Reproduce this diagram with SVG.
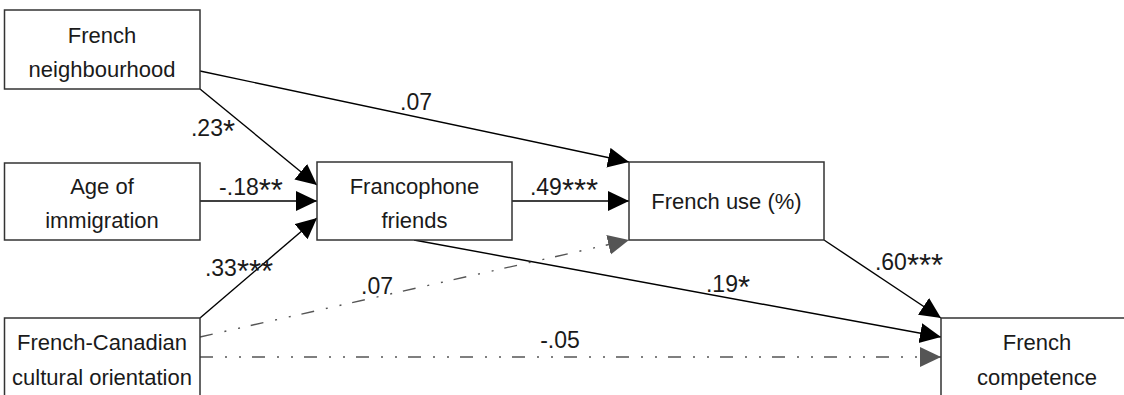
<svg xmlns="http://www.w3.org/2000/svg" width="1124" height="395" viewBox="0 0 1124 395">
  <style>
    .box { fill: #ffffff; stroke: #333333; stroke-width: 1.5; }
    .txt { font-family: "Liberation Sans", Arial, sans-serif; font-size: 22px; fill: #1a1a1a; text-anchor: middle; }
    .lbl { font-family: "Liberation Sans", Arial, sans-serif; font-size: 23px; fill: #1a1a1a; text-anchor: middle; }
    .ast { font-size: 31px; }
    .solid { fill: none; stroke: #000000; stroke-width: 1.4; marker-end: url(#arrowBlack); }
    .dashed { fill: none; stroke: #555555; stroke-width: 1.4; stroke-dasharray: 13 12 2 12 2 11; marker-end: url(#arrowGray); }
  </style>
  <defs>
    <marker id="arrowBlack" markerUnits="userSpaceOnUse" markerWidth="22" markerHeight="21" refX="21" refY="10" orient="auto" viewBox="0 0 22 21">
      <path d="M0,0 L21,10 L0,20 Z" fill="#000000"/>
    </marker>
    <marker id="arrowGray" markerUnits="userSpaceOnUse" markerWidth="22" markerHeight="21" refX="21" refY="10" orient="auto" viewBox="0 0 22 21">
      <path d="M0,0 L21,10 L0,20 Z" fill="#555555"/>
    </marker>
  </defs>

  <rect width="1124" height="395" fill="#ffffff"/>

  <!-- paths between the constructs -->
  <g id="connectors">
    <line class="solid" x1="200" y1="71" x2="629" y2="162"/>
    <line class="solid" x1="200" y1="89" x2="317" y2="185"/>
    <line class="solid" x1="200" y1="201" x2="317" y2="201"/>
    <line class="solid" x1="200" y1="318" x2="317" y2="218"/>
    <line class="solid" x1="512" y1="201" x2="629" y2="201"/>
    <line class="solid" x1="414" y1="240" x2="941" y2="337"/>
    <line class="solid" x1="824" y1="240" x2="941" y2="318"/>
    <line class="dashed" x1="200" y1="337" x2="629" y2="240"/>
    <line class="dashed" x1="200" y1="357" x2="941" y2="357"/>

    <text class="lbl" x="416" y="110">.07</text>
    <text class="lbl" x="213" y="136">.23<tspan class="ast" dy="6">*</tspan></text>
    <text class="lbl" x="251" y="195">-.18<tspan class="ast" dy="6">**</tspan></text>
    <text class="lbl" x="239" y="276">.33<tspan class="ast" dy="6">***</tspan></text>
    <text class="lbl" x="564" y="195">.49<tspan class="ast" dy="6">***</tspan></text>
    <text class="lbl" x="377" y="294">.07</text>
    <text class="lbl" x="560" y="348">-.05</text>
    <text class="lbl" x="728" y="292">.19<tspan class="ast" dy="6">*</tspan></text>
    <text class="lbl" x="909" y="270">.60<tspan class="ast" dy="6">***</tspan></text>
  </g>

  <g id="french-neighbourhood">
    <rect class="box" x="4.5" y="10" width="195.5" height="79"/>
    <text class="txt" x="102" y="43">French</text>
    <text class="txt" x="102" y="77">neighbourhood</text>
  </g>

  <g id="age-of-immigration">
    <rect class="box" x="4.5" y="163" width="195.5" height="77"/>
    <text class="txt" x="102" y="194">Age of</text>
    <text class="txt" x="102" y="228">immigration</text>
  </g>

  <g id="cultural-orientation">
    <rect class="box" x="4.5" y="318" width="195.5" height="90"/>
    <text class="txt" x="102" y="350">French-Canadian</text>
    <text class="txt" x="102" y="385">cultural orientation</text>
  </g>

  <g id="francophone-friends">
    <rect class="box" x="317" y="162" width="195" height="78"/>
    <text class="txt" x="414.5" y="194">Francophone</text>
    <text class="txt" x="414.5" y="228">friends</text>
  </g>

  <g id="french-use">
    <rect class="box" x="629" y="162" width="195" height="78"/>
    <text class="txt" x="726.5" y="209">French use (%)</text>
  </g>

  <g id="french-competence">
    <rect class="box" x="941" y="318" width="196" height="90"/>
    <text class="txt" x="1037" y="350">French</text>
    <text class="txt" x="1037" y="385">competence</text>
  </g>
</svg>
